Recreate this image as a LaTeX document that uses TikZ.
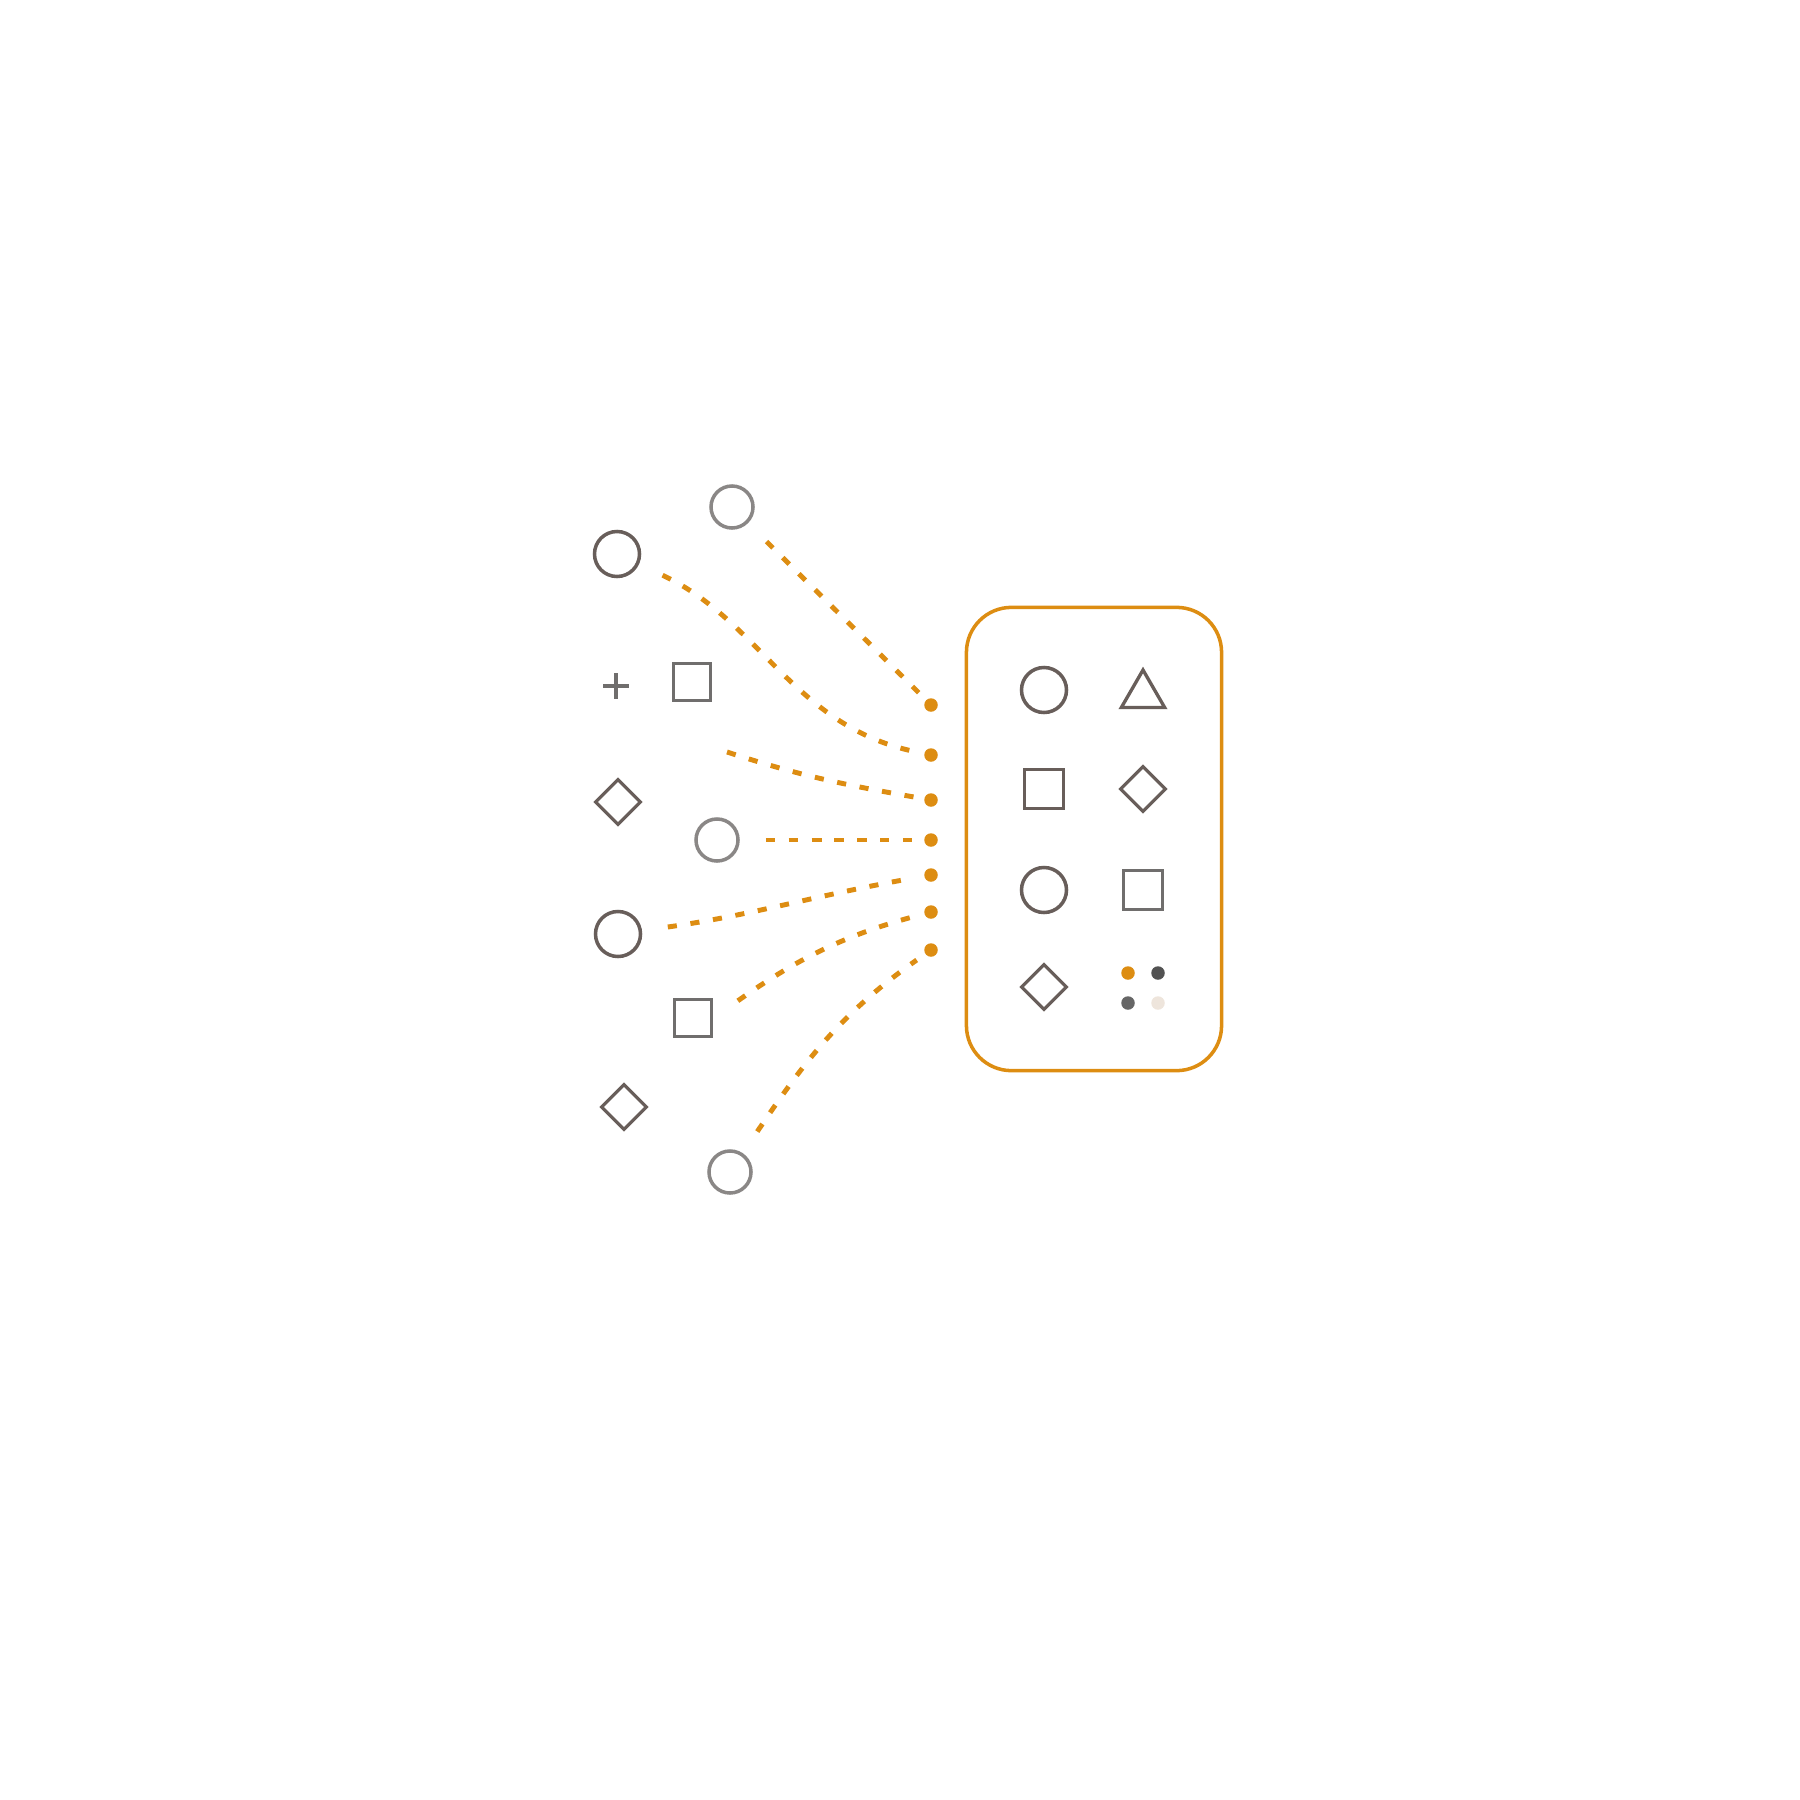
\documentclass[tikz,border=0pt]{standalone}
\usepackage{tikz}
\usetikzlibrary{shapes.geometric}
\definecolor{amber}{RGB}{221,141,18}
\definecolor{umber}{RGB}{104,94,90}
\definecolor{ash}{RGB}{138,135,134}
\definecolor{slate}{RGB}{112,110,109}
\tikzset{o/.style={circle,draw=umber,line width=1pt,inner sep=0pt,minimum size=0.45cm}}
\tikzset{og/.style={o,draw=ash,minimum size=0.42cm}}
\tikzset{sq/.style={rectangle,draw=slate,line width=1pt,inner sep=0pt,minimum size=0.37cm}}
\tikzset{dm/.style={diamond,draw=umber,line width=0.9pt,inner sep=0pt,minimum size=0.46cm}}
\tikzset{tr/.style={regular polygon,regular polygon sides=3,draw=umber,line width=0.95pt,inner sep=0pt,minimum size=0.5cm}}
\tikzset{dt/.style={circle,fill=amber,inner sep=0pt,minimum size=0.135cm}}
\tikzset{lnk/.style={draw=amber,line width=1.4pt,dash pattern=on 2.6pt off 3.9pt,shorten <=0.26cm,shorten >=0.1cm}}

\begin{document}
\begin{tikzpicture}[x=0.01cm,y=-0.01cm]
          \useasboundingbox (0,0) rectangle (1800,1800);
          \node[dt] (d1) at (931,705) {};
          \node[dt] (d2) at (931,755) {};
          \node[dt] (d3) at (931,800) {};
          \node[dt] (d4) at (931,840) {};
          \node[dt] (d5) at (931,875) {};
          \node[dt] (d6) at (931,912) {};
          \node[dt] (d7) at (931,950) {};
          \node[og] (c1) at (732,507) {}
            edge [lnk,out=-45,in=135] (d1);
          \node[o] (c2) at (617,554) {}
            edge [lnk,out=-25,in=168] (d2);
          \coordinate (pl) at (616,686);
          \draw[slate,line width=0.9pt] (pl) +(-13,0) -- +(13,0) (pl) +(0,-13) -- +(0,13);
          \node[sq] (s1) at (692,682) {};
          \coordinate (f3) at (727,752);
          \draw[lnk,shorten <=0pt] (f3) to[out=-18,in=170] (d3);
          \node[dm] (m1) at (618,802) {};
          \node[og] (c4) at (717,840) {}
            edge [lnk,out=0,in=180] (d4);
          \node[o] (c5) at (618,934) {}
            edge [lnk,out=8,in=190] (d5);
          \node[sq] (s2) at (693,1018) {};
          \draw[lnk,shorten <=0.3cm] (s2.east) to[out=35,in=195] (d6);
          \node[dm] (m2) at (624,1107) {};
          \node[og] (c7) at (730,1172) {}
            edge [lnk,out=56,in=215] (d7);
          \node[draw=amber,line width=1pt,rounded corners=0.45cm,minimum width=2.55cm,minimum height=4.63cm] (box) at (1094,839) {};
          \node[o] (b1) at (1044,690) {};
          \node[tr] (b2) at (1143,695) {};
          \node[sq,draw=umber,minimum size=0.39cm] (b3) at (1044,789) {};
          \node[dm] (b4) at (1143,789) {};
          \node[o] (b5) at (1044,890) {};
          \node[sq,minimum size=0.39cm] (b6) at (1143,890) {};
          \node[dm] (b7) at (1044,987) {};
          \node[dt] (k1) at (1128,973) {};
          \node[dt,fill=black!68] (k2) at (1158,973) {};
          \node[dt,fill=black!60] (k3) at (1128,1003) {};
          \node[dt,fill={rgb,255:red,238;green,229;blue,220}] (k4) at (1158,1003) {};
        \end{tikzpicture}
\end{document}
